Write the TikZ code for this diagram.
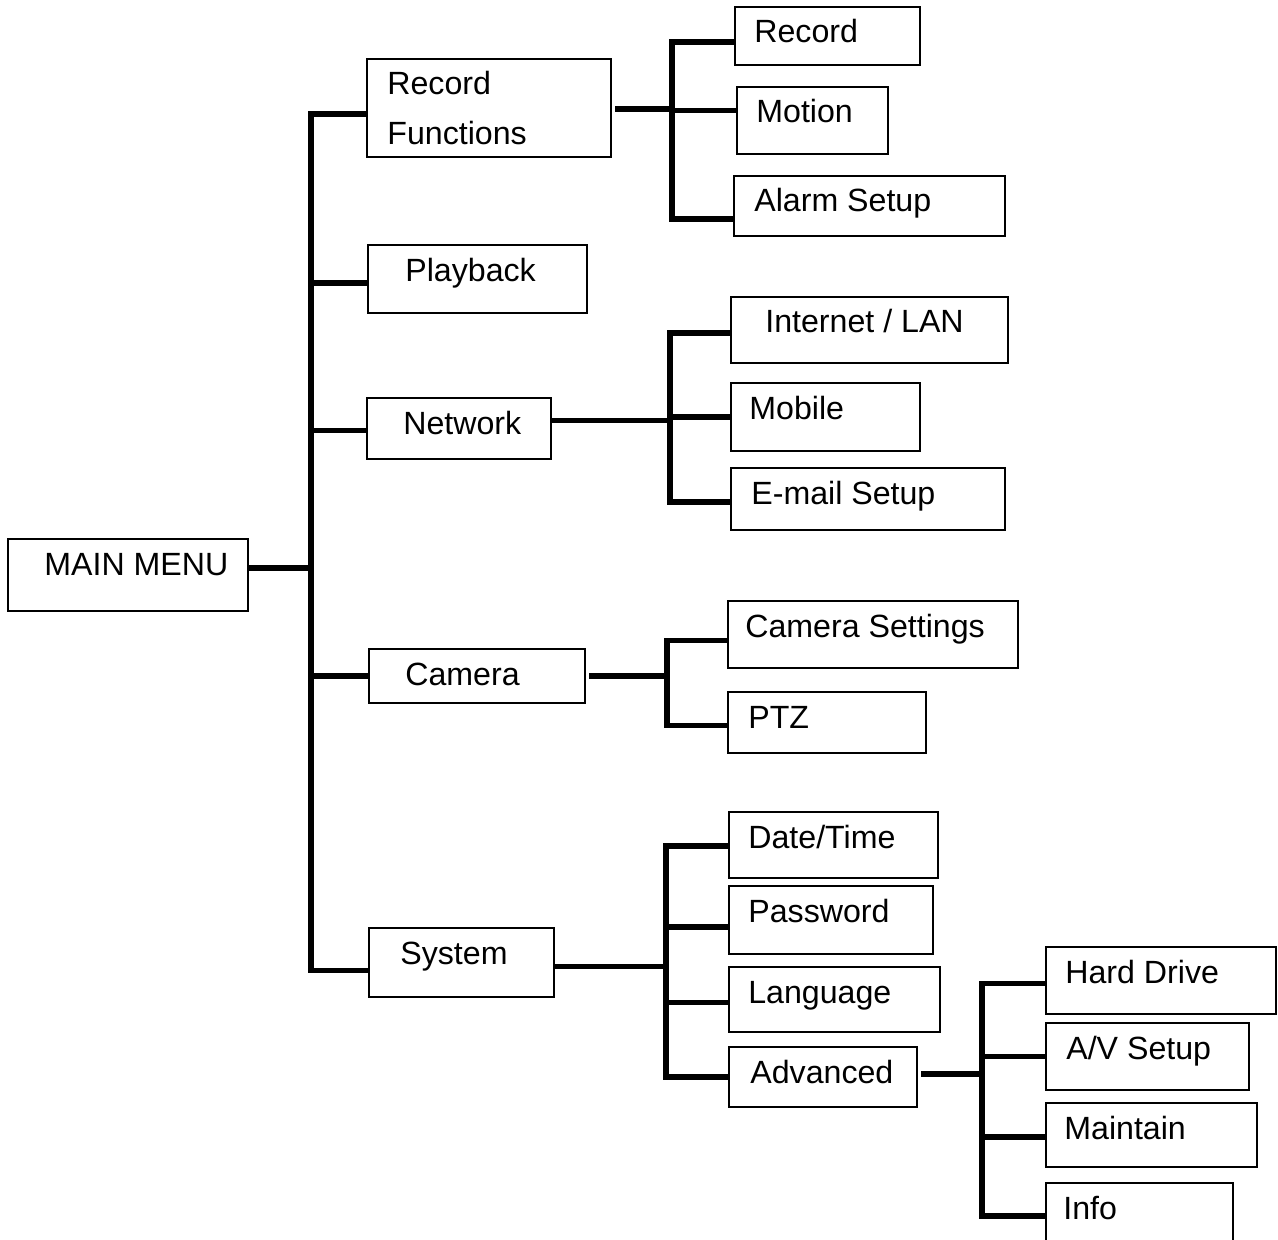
\documentclass[tikz,border=0pt]{standalone}
\usepackage{fontspec}
\setmainfont{Liberation Sans}
\def\pxu{0.02cm}
\tikzset{
	box/.style={
		rectangle,
		draw=black,
		line width=1.1pt,
		anchor=north west,
		inner sep=0pt,
		outer sep=0pt
	},
	lbl/.style={
		anchor=base west,
		inner sep=0pt,
		font=\fontsize{18.3}{27.9}\selectfont
	},
	bus/.style={
		draw=black,
		line width=3.2pt
	},
	trunk/.style={
		bus,
		line cap=rect
	},
}
% name, left, top, width, height, text offset, text
\newcommand{\menubox}[7]{%
	\node[box, minimum width=#4*\pxu, minimum height=#5*\pxu] (#1) at (#2,#3) {};
	\node[lbl] (#1-txt) at ([shift={(#6,36)}]#1.north west) {#7};
}

\begin{document}
\begin{tikzpicture}[x=\pxu,y=-\pxu]
	\useasboundingbox (0,0) rectangle (1278,1240);
	\clip (0,0) rectangle (1278,1240);
	\menubox{main}{8}{539}{240}{72}{36}{MAIN MENU}
	\menubox{recf}{367}{59}{244}{98}{20}{\begin{tabular}[t]{@{}l@{}}Record\\Functions\end{tabular}}
	\menubox{play}{368}{245}{219}{68}{37}{Playback}
	\menubox{net}{367}{398}{184}{61}{36}{Network}
	\menubox{cam}{369}{649}{216}{54}{36}{Camera}
	\menubox{sys}{369}{928}{185}{69}{31}{System}
	\menubox{rec}{735}{7}{185}{58}{19}{Record}
	\menubox{mot}{737}{87}{151}{67}{19}{Motion}
	\menubox{alarm}{734}{176}{271}{60}{20}{Alarm Setup}
	\menubox{inet}{731}{297}{277}{66}{34}{Internet / LAN}
	\menubox{mob}{731}{383}{189}{68}{18}{Mobile}
	\menubox{email}{731}{468}{274}{62}{20}{E-mail Setup}
	\menubox{camset}{728}{601}{290}{67}{17}{Camera Settings}
	\menubox{ptz}{728}{692}{198}{61}{20}{PTZ}
	\menubox{date}{729}{812}{209}{66}{19}{Date/Time}
	\menubox{pass}{729}{886}{204}{68}{19}{Password}
	\menubox{lang}{729}{967}{211}{65}{19}{Language}
	\menubox{adv}{729}{1047}{188}{60}{21}{Advanced}
	\menubox{hdd}{1046}{947}{230}{67}{19}{Hard Drive}
	\menubox{av}{1046}{1023}{203}{67}{20}{A/V Setup}
	\menubox{maint}{1046}{1103}{211}{64}{18}{Maintain}
	\menubox{info}{1046}{1183}{187}{70}{17}{Info}
	% main menu
	\coordinate (mtrunk) at ([shift={(63,-7)}]main.east);
	\draw[bus] (main.east |- mtrunk) -- (mtrunk);
	\foreach \b/\dy in {recf/6,play/4,net/2,cam/0,sys/8}{
		\coordinate (\b-in) at ([shift={(0,\dy)}]\b.west);
		\draw[bus] (\b-in -| mtrunk) -- (\b-in);
	}
	\draw[trunk] (recf-in -| mtrunk) -- (sys-in -| mtrunk);
	% record functions
	\coordinate (rtrunk) at ([shift={(61,1)}]recf.east);
	\draw[bus,shorten <=2.3pt] (recf.east |- rtrunk) -- (rtrunk);
	\foreach \b/\dy in {rec/6,mot/-10,alarm/13}{
		\coordinate (\b-in) at ([shift={(0,\dy)}]\b.west);
		\draw[bus] (\b-in -| rtrunk) -- (\b-in);
	}
	\draw[trunk] (rec-in -| rtrunk) -- (alarm-in -| rtrunk);
	% network
	\coordinate (ntrunk) at ([shift={(119,-8)}]net.east);
	\draw[bus] (net.east |- ntrunk) -- (ntrunk);
	\foreach \b/\dy in {inet/3,mob/0,email/3}{
		\coordinate (\b-in) at ([shift={(0,\dy)}]\b.west);
		\draw[bus] (\b-in -| ntrunk) -- (\b-in);
	}
	\draw[trunk] (inet-in -| ntrunk) -- (email-in -| ntrunk);
	% camera
	\coordinate (ctrunk) at ([shift={(82,0)}]cam.east);
	\draw[bus,shorten <=2.3pt] (cam.east |- ctrunk) -- (ctrunk);
	\foreach \b/\dy in {camset/6,ptz/3}{
		\coordinate (\b-in) at ([shift={(0,\dy)}]\b.west);
		\draw[bus] (\b-in -| ctrunk) -- (\b-in);
	}
	\draw[trunk] (camset-in -| ctrunk) -- (ptz-in -| ctrunk);
	% system
	\coordinate (strunk) at ([shift={(112,4)}]sys.east);
	\draw[bus] (sys.east |- strunk) -- (strunk);
	\foreach \b/\dy in {date/1,pass/7,lang/3,adv/0}{
		\coordinate (\b-in) at ([shift={(0,\dy)}]\b.west);
		\draw[bus] (\b-in -| strunk) -- (\b-in);
	}
	\draw[trunk] (date-in -| strunk) -- (adv-in -| strunk);
	% advanced
	\coordinate (atrunk) at ([shift={(65,-3)}]adv.east);
	\draw[bus,shorten <=2.3pt] (adv.east |- atrunk) -- (atrunk);
	\foreach \b/\dy in {hdd/3,av/0,maint/2,info/-2}{
		\coordinate (\b-in) at ([shift={(0,\dy)}]\b.west);
		\draw[bus] (\b-in -| atrunk) -- (\b-in);
	}
	\draw[trunk] (hdd-in -| atrunk) -- (info-in -| atrunk);
\end{tikzpicture}
\end{document}
